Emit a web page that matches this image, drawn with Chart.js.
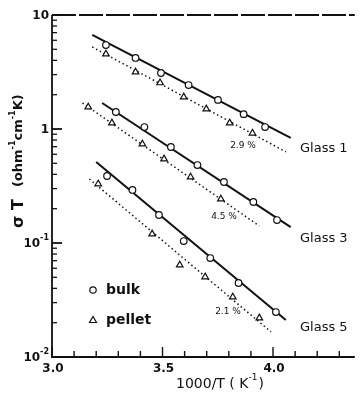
<!DOCTYPE html>
<html>
<head>
<meta charset="utf-8">
<script src="https://cdn.jsdelivr.net/npm/chart.js@4.4.0/dist/chart.umd.min.js"></script>
<style>
  html, body { margin: 0; padding: 0; background: #fff; }
  #wrap { width: 360px; height: 394px; position: relative; }
</style>
</head>
<body>
<div id="wrap"><canvas id="sigmaChart" width="360" height="394"></canvas></div>
<script>
// values: x = 1000/T (K^-1), y = sigma*T (ohm^-1 cm^-1 K)
const glass1BulkX = [3.244, 3.378, 3.493, 3.618, 3.751, 3.867, 3.964];
const glass1BulkY = [5.45, 4.2, 3.1, 2.43, 1.8, 1.35, 1.04];
const glass1PelletX = [3.244, 3.378, 3.489, 3.596, 3.698, 3.804, 3.907];
const glass1PelletY = [4.55, 3.16, 2.54, 1.91, 1.5, 1.13, 0.92];

const glass3BulkX = [3.289, 3.418, 3.538, 3.658, 3.778, 3.911, 4.018];
const glass3BulkY = [1.41, 1.04, 0.695, 0.483, 0.343, 0.229, 0.159];
const glass3PelletX = [3.164, 3.271, 3.409, 3.507, 3.627, 3.764];
const glass3PelletY = [1.56, 1.13, 0.738, 0.546, 0.379, 0.243];

const glass5BulkX = [3.249, 3.364, 3.484, 3.596, 3.716, 3.844, 4.013];
const glass5BulkY = [0.387, 0.292, 0.176, 0.104, 0.0738, 0.0446, 0.0248];
const glass5PelletX = [3.209, 3.453, 3.578, 3.693, 3.818, 3.938];
const glass5PelletY = [0.33, 0.12, 0.0641, 0.0504, 0.0336, 0.022];

// fitted straight lines (end points)
const fit1BulkX = [3.182, 4.08];
const fit1BulkY = [6.68, 0.834];
const fit1PelletX = [3.182, 4.058];
const fit1PelletY = [5.24, 0.63];
const fit3BulkX = [3.227, 4.08];
const fit3BulkY = [1.69, 0.138];
const fit3PelletX = [3.138, 3.938];
const fit3PelletY = [1.69, 0.141];
const fit5BulkX = [3.2, 4.058];
const fit5BulkY = [0.514, 0.0211];
const fit5PelletX = [3.169, 3.991];
const fit5PelletY = [0.364, 0.0166];

const xMin = 3.0, xMax = 4.37;
const yMin = 0.01, yMax = 10;
const xMinorTicks = [3.0, 3.1, 3.2, 3.3, 3.4, 3.5, 3.6, 3.7, 3.8, 3.9, 4.0, 4.1, 4.2, 4.3];
const xTickLabels = ["3.0", "3.5", "4.0"];
const yDecades = [10, 1, 0.1, 0.01];
const yDecadeLabels = [["10", ""], ["1", ""], ["10", "-1"], ["10", "-2"]];
const glassNames = ["Glass 1", "Glass 3", "Glass 5"];
const shrinkLabels = ["2.9 %", "4.5 %", "2.1 %"];
const legendLabels = ["bulk", "pellet"];

const ink = "#111";
const font = "'DejaVu Sans', sans-serif";

const pts = (xs, ys) => xs.map((x, i) => ({ x: x, y: ys[i] }));

const bulkSet = (xs, ys) => ({
  data: pts(xs, ys), showLine: false, order: 0,
  pointStyle: "circle", pointRadius: 3.3, pointBorderWidth: 1.2,
  pointBackgroundColor: "#fff", pointBorderColor: ink,
});
const pelletSet = (xs, ys) => ({
  data: pts(xs, ys), showLine: false, order: 0,
  pointStyle: "triangle", pointRadius: 3.8, pointBorderWidth: 1.2,
  pointBackgroundColor: "#fff", pointBorderColor: ink,
});
const fitSet = (xs, ys, dotted) => ({
  data: pts(xs, ys), showLine: true, order: 1, pointRadius: 0,
  borderColor: ink, borderWidth: dotted ? 1.5 : 2,
  borderDash: dotted ? [1.5, 2.8] : [],
});

const axesPlugin = {
  id: "axesPlugin",
  afterDraw(chart) {
    const ctx = chart.ctx;
    const xs = chart.scales.x, ys = chart.scales.y;
    const a = chart.chartArea;
    ctx.save();
    ctx.strokeStyle = ink;
    ctx.fillStyle = ink;

    // frame
    ctx.lineWidth = 1.8;
    ctx.beginPath();
    ctx.moveTo(a.left, a.top);
    ctx.lineTo(a.left, a.bottom);
    ctx.lineTo(a.right, a.bottom);
    ctx.stroke();
    ctx.setLineDash([24, 3]);
    ctx.beginPath();
    ctx.moveTo(a.left, a.top);
    ctx.lineTo(a.right, a.top);
    ctx.stroke();
    ctx.setLineDash([]);

    // x ticks (inward)
    ctx.lineWidth = 1.4;
    xMinorTicks.forEach((v) => {
      const px = xs.getPixelForValue(v);
      const major = Math.abs(v * 2 - Math.round(v * 2)) < 1e-6;
      ctx.beginPath();
      ctx.moveTo(px, a.bottom);
      ctx.lineTo(px, a.bottom - (major ? 10 : 6));
      ctx.stroke();
    });
    ctx.font = "bold 12px " + font;
    ctx.textAlign = "center";
    ctx.textBaseline = "top";
    xTickLabels.forEach((t) => {
      ctx.fillText(t, xs.getPixelForValue(parseFloat(t)) + 1, a.bottom + 6);
    });

    // y ticks (inward)
    yDecades.forEach((d, i) => {
      const py = ys.getPixelForValue(d);
      ctx.lineWidth = 1.8;
      ctx.beginPath();
      ctx.moveTo(a.left, py);
      ctx.lineTo(a.left + 10, py);
      ctx.stroke();
      if (d < 10) {
        ctx.lineWidth = 1.3;
        for (let m = 2; m <= 9; m++) {
          const my = ys.getPixelForValue(d * m);
          ctx.beginPath();
          ctx.moveTo(a.left, my);
          ctx.lineTo(a.left + 5, my);
          ctx.stroke();
        }
      }
      const [base, sup] = yDecadeLabels[i];
      ctx.textAlign = "right";
      ctx.textBaseline = "middle";
      let right = a.left - 3;
      if (sup) {
        ctx.font = "bold 8px " + font;
        ctx.fillText(sup, right, py - 5);
        right -= ctx.measureText(sup).width;
      }
      ctx.font = "bold 12px " + font;
      ctx.fillText(base, right, py + 1);
    });

    // x title
    ctx.font = "14px " + font;
    ctx.textAlign = "left";
    ctx.textBaseline = "middle";
    let tx = 176;
    const ty = 384;
    const t1 = "1000/T ( K";
    ctx.fillText(t1, tx, ty);
    tx += ctx.measureText(t1).width;
    ctx.font = "9px " + font;
    ctx.fillText("-1", tx, ty - 6);
    tx += ctx.measureText("-1").width + 1;
    ctx.font = "14px " + font;
    ctx.fillText(")", tx, ty);

    // y title (rotated, reads bottom to top)
    ctx.save();
    ctx.translate(19, 228);
    ctx.rotate(-Math.PI / 2);
    ctx.textBaseline = "middle";
    ctx.textAlign = "left";
    let yx = 0;
    const parts = [
      ["bold 16px " + font, "σ T", 0, 12],
      ["bold 13px " + font, "(ohm", 0, 0],
      ["bold 8px " + font, "-1", -6, 0],
      ["bold 13px " + font, "cm", 0, 0],
      ["bold 8px " + font, "-1", -6, 0],
      ["bold 13px " + font, "K)", 0, 0],
    ];
    parts.forEach(([f, s, dy, gap]) => {
      ctx.font = f;
      ctx.fillText(s, yx, dy);
      yx += ctx.measureText(s).width + gap;
    });
    ctx.restore();

    // glass labels and pellet shrinkage
    ctx.font = "13px " + font;
    ctx.textAlign = "left";
    ctx.textBaseline = "middle";
    [149, 239, 328].forEach((py, i) => ctx.fillText(glassNames[i], 300, py));
    ctx.font = "9px " + font;
    ctx.textAlign = "center";
    [[243, 146], [224, 217], [228, 312]].forEach(([px, py], i) => ctx.fillText(shrinkLabels[i], px, py));

    // legend
    ctx.lineWidth = 1.2;
    ctx.beginPath();
    ctx.arc(93, 290, 3.2, 0, Math.PI * 2);
    ctx.stroke();
    ctx.beginPath();
    ctx.moveTo(93, 316.5);
    ctx.lineTo(96.5, 322.5);
    ctx.lineTo(89.5, 322.5);
    ctx.closePath();
    ctx.stroke();
    ctx.font = "bold 14px " + font;
    ctx.textAlign = "left";
    ctx.fillText(legendLabels[0], 106, 290);
    ctx.fillText(legendLabels[1], 106, 320);

    ctx.restore();
  },
};

new Chart(document.getElementById("sigmaChart").getContext("2d"), {
  type: "scatter",
  data: {
    datasets: [
      bulkSet(glass1BulkX, glass1BulkY),
      pelletSet(glass1PelletX, glass1PelletY),
      bulkSet(glass3BulkX, glass3BulkY),
      pelletSet(glass3PelletX, glass3PelletY),
      bulkSet(glass5BulkX, glass5BulkY),
      pelletSet(glass5PelletX, glass5PelletY),
      fitSet(fit1BulkX, fit1BulkY, false),
      fitSet(fit1PelletX, fit1PelletY, true),
      fitSet(fit3BulkX, fit3BulkY, false),
      fitSet(fit3PelletX, fit3PelletY, true),
      fitSet(fit5BulkX, fit5BulkY, false),
      fitSet(fit5PelletX, fit5PelletY, true),
    ],
  },
  options: {
    responsive: false,
    animation: false,
    layout: { padding: { left: 52, top: 15, right: 0, bottom: 37 } },
    plugins: { legend: { display: false }, tooltip: { enabled: false } },
    scales: {
      x: { type: "linear", min: xMin, max: xMax, display: false },
      y: { type: "logarithmic", min: yMin, max: yMax, display: false },
    },
  },
  plugins: [axesPlugin],
});
</script>
</body>
</html>
